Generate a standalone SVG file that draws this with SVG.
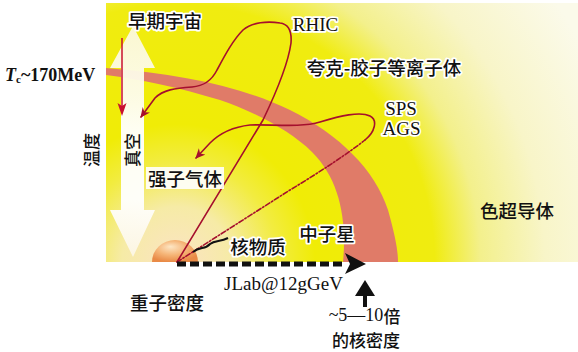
<svg xmlns="http://www.w3.org/2000/svg" width="578" height="352" viewBox="0 0 578 352">
<style>
.cjk{font-family:"Noto Sans CJK SC","Noto Sans",sans-serif;font-size:18.5px;font-weight:500;fill:#111;dominant-baseline:central;text-anchor:middle}
.lat{font-family:"Liberation Serif",serif;font-size:19px;fill:#111;dominant-baseline:central;text-anchor:middle}
.halo{stroke:#fff;stroke-width:3.5;stroke-linejoin:round;paint-order:stroke}
.path{fill:none;stroke:#a50f2d;stroke-width:1.6;stroke-linejoin:round;stroke-linecap:round}
</style>
<defs>
<radialGradient id="bg" gradientUnits="userSpaceOnUse" cx="177" cy="262" r="460">
<stop offset="0" stop-color="#fbe3c4"/>
<stop offset="0.12" stop-color="#f6eba6"/>
<stop offset="0.22" stop-color="#f2ec40"/>
<stop offset="0.3" stop-color="#f0ec06"/>
<stop offset="0.56" stop-color="#f0ec10"/>
<stop offset="0.66" stop-color="#f3f08c"/>
<stop offset="0.8" stop-color="#f8f5c8"/>
<stop offset="1" stop-color="#fbfaea"/>
</radialGradient>
<radialGradient id="ball" cx="0.45" cy="0.4" r="0.6" fx="0.4" fy="0.3">
<stop offset="0" stop-color="#fde6c4"/>
<stop offset="0.55" stop-color="#f5b476"/>
<stop offset="1" stop-color="#e98a46"/>
</radialGradient>
<linearGradient id="shaft" x1="0" y1="0" x2="0" y2="1">
<stop offset="0" stop-color="#fbf8dc"/>
<stop offset="0.3" stop-color="#fdfcee"/>
<stop offset="0.45" stop-color="#ffffff"/>
<stop offset="0.75" stop-color="#ffffff"/>
<stop offset="1" stop-color="#fcf6e4"/>
</linearGradient>
<marker id="ah" viewBox="0 0 10 10" refX="9" refY="5" markerWidth="10" markerHeight="10" markerUnits="userSpaceOnUse" orient="auto">
<path d="M0,0.5 L10,5 L0,9.5 L3,5 z" fill="#a50f2d"/>
</marker>
</defs>

<g id="background">
<rect x="106" y="3" width="472" height="259" fill="url(#bg)"/>
<path d="M106,68 C180,74 240,86 290,110 C340,135 375,170 388,210 C395,235 398,250 398,262 L343,262 C347,220 340,180 312,152 C290,130 250,110 220,100 C180,88 140,79 106,75 Z" fill="#e07b68"/>
<path d="M152,262 A23,22 0 0 1 198,262 Z" fill="url(#ball)"/>
</g>

<g id="temperature-axis">
<path d="M121,68 L110,68 L133,26 L155,68 L144,68 L144,210 L155,210 L133,257 L110,210 L121,210 Z" fill="url(#shaft)" opacity="0.95"/>
</g>

<g id="connectors">
<line x1="122" y1="38" x2="122" y2="110" stroke="#c8102e" stroke-width="1.5"/>
<path d="M122,116 L117.5,103 L122,106 L126.5,103 Z" fill="#c8102e"/>
<path class="path" marker-end="url(#ah)" d="M177,262 L263,120 C275,95 288,65 291,43 C292,30 288,24 280,23 C268,21 252,22 243,30 C233,40 225,55 217,70 C212,80 205,86 192,87 C175,88 163,90 155,98 L141,117"/>
<path class="path" stroke-dasharray="5 2 1.5 2" d="M177,262 L290,190 C320,172 350,152 365,140"/>
<path class="path" marker-end="url(#ah)" d="M365,140 C375,132 378,120 370,116 C360,111 340,116 320,122 C300,128 270,124 250,125 C232,127 218,135 210,143 L196,158"/>
<path d="M193,252 C200,246 205,250 210,244 C215,240 220,242 228,238" fill="none" stroke="#111" stroke-width="2"/>
<line x1="177" y1="264" x2="346" y2="264" stroke="#111" stroke-width="5" stroke-dasharray="9 4"/>
<path d="M366,264 L345,253 L350,264 L345,274 Z" fill="#111"/>
<path d="M363,307 L363,296 L355,296 L365,280 L375,296 L367,296 L367,307 Z" fill="#111"/>
</g>

<g id="labels">
<text class="cjk halo" x="165" y="20">早期宇宙</text>
<text class="lat halo" x="315.5" y="24">RHIC</text>
<text class="cjk halo" x="384" y="67">夸克-胶子等离子体</text>
<text class="lat halo" x="401" y="108">SPS</text>
<text class="lat halo" x="401.5" y="128">AGS</text>
<rect x="146" y="167" width="78" height="22" fill="#fff" opacity="0.9"/>
<text class="cjk" x="185" y="178">强子气体</text>
<text class="cjk halo" x="258" y="246">核物质</text>
<text class="cjk halo" x="327" y="233">中子星</text>
<text class="cjk" x="517" y="210">色超导体</text>
<text class="lat" x="5" y="75" style="text-anchor:start;font-weight:bold;font-size:18px"><tspan font-style="italic">T</tspan><tspan font-size="11" dy="4">c</tspan><tspan dy="-4">~170MeV</tspan></text>
<text class="cjk" transform="translate(90,150) rotate(-90)" x="0" y="0" style="font-size:17px">温度</text>
<text class="cjk" transform="translate(131,150) rotate(-90)" x="0" y="0" style="font-size:17px">真空</text>
<text class="lat" x="283.5" y="283">JLab@12gGeV</text>
<text class="cjk" x="167" y="302">重子密度</text>
<text class="cjk" x="364.5" y="315" style="font-size:17px"><tspan style="font-family:'Liberation Serif',serif;font-size:18px">~5—10</tspan>倍</text>
<text class="cjk" x="366" y="339" style="font-size:17px">的核密度</text>
</g>
</svg>
